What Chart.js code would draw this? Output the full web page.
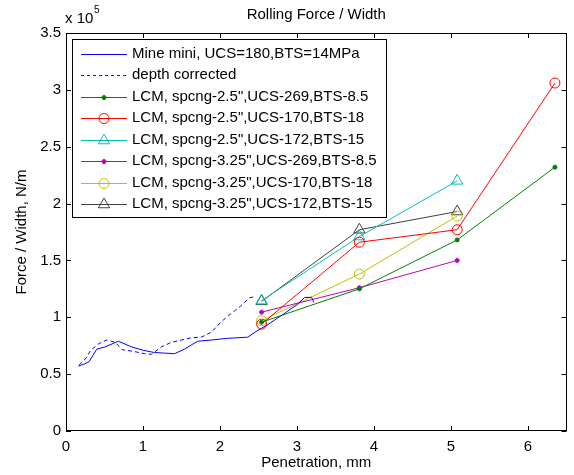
<!DOCTYPE html>
<html>
<head>
<meta charset="utf-8">
<script src="https://cdn.jsdelivr.net/npm/chart.js@4.4.0/dist/chart.umd.min.js"></script>
<style>
  html, body { margin: 0; padding: 0; background: #fff; }
  canvas { display: block; }
</style>
</head>
<body>
<canvas id="grafica" width="574" height="475"></canvas>
<script>
// ===============================
// DATOS (fuerza en unidades de 1e5 N/m)
// ===============================
const mineX = [0.16, 0.24, 0.30, 0.40, 0.51, 0.68, 0.85, 1.00, 1.15, 1.28, 1.41, 1.54, 1.66, 1.72, 1.89, 2.10, 2.36, 2.48, 2.53, 2.61, 2.74, 2.83, 2.91, 3.00, 3.10, 3.19, 3.22];
const mineY = [0.57, 0.59, 0.61, 0.72, 0.74, 0.79, 0.74, 0.71, 0.69, 0.685, 0.68, 0.72, 0.77, 0.79, 0.80, 0.815, 0.825, 0.88, 0.90, 0.93, 0.99, 1.03, 1.07, 1.11, 1.175, 1.175, 1.13];

const corrX = [0.17, 0.26, 0.32, 0.43, 0.53, 0.64, 0.73, 0.88, 1.02, 1.11, 1.24, 1.37, 1.50, 1.63, 1.76, 1.89, 2.01, 2.14, 2.27, 2.38, 2.44];
const corrY = [0.58, 0.64, 0.71, 0.77, 0.80, 0.78, 0.715, 0.70, 0.68, 0.675, 0.74, 0.78, 0.80, 0.82, 0.826, 0.87, 0.957, 1.03, 1.10, 1.17, 1.18];

const spacingX = [2.54, 3.81, 5.08, 6.35];
const ucs269_25 = [0.957, 1.25, 1.68, 2.32];
const ucs170_25 = [0.94, 1.66, 1.77, 3.06];
const ucs172_25 = [1.147, 1.71, 2.20];
const ucs269_325 = [1.045, 1.26, 1.50];
const ucs170_325 = [0.97, 1.38, 1.89];
const ucs172_325 = [1.14, 1.77, 1.93];

const xTicks = [0, 1, 2, 3, 4, 5, 6];
const yTicks = [0, 0.5, 1, 1.5, 2, 2.5, 3, 3.5];

const FONT = "'Liberation Sans', Arial, sans-serif";

function pares(xs, ys) {
  return ys.map((y, i) => ({ x: xs[i], y }));
}

// ===============================
// SERIES
// ===============================
const series = [
  { label: "Mine mini, UCS=180,BTS=14MPa", data: pares(mineX, mineY), color: "#0000ff", marker: null, dash: [] },
  { label: "depth corrected", data: pares(corrX, corrY), color: "#0000ff", marker: null, dash: [4, 3] },
  { label: "LCM, spcng-2.5\",UCS-269,BTS-8.5", data: pares(spacingX, ucs269_25), color: "#008000", marker: "dot", dash: [] },
  { label: "LCM, spcng-2.5\",UCS-170,BTS-18", data: pares(spacingX, ucs170_25), color: "#ff0000", marker: "circle", dash: [] },
  { label: "LCM, spcng-2.5\",UCS-172,BTS-15", data: pares(spacingX, ucs172_25), color: "#00bfbf", marker: "triangle", dash: [] },
  { label: "LCM, spcng-3.25\",UCS-269,BTS-8.5", data: pares(spacingX, ucs269_325), color: "#bf00bf", marker: "dot", dash: [] },
  { label: "LCM, spcng-3.25\",UCS-170,BTS-18", data: pares(spacingX, ucs170_325), color: "#bfbf00", marker: "circle", dash: [] },
  { label: "LCM, spcng-3.25\",UCS-172,BTS-15", data: pares(spacingX, ucs172_325), color: "#404040", marker: "triangle", dash: [] }
];

function estiloPunto(m) {
  if (m === "dot") return { pointStyle: "circle", pointRadius: 2, fill: true };
  if (m === "circle") return { pointStyle: "circle", pointRadius: 5, fill: false };
  if (m === "triangle") return { pointStyle: "triangle", pointRadius: 6.5, fill: false };
  return { pointStyle: "circle", pointRadius: 0, fill: false };
}

const datasets = series.map(s => {
  const p = estiloPunto(s.marker);
  return {
    label: s.label,
    data: s.data,
    borderColor: s.color,
    borderWidth: 1,
    borderDash: s.dash,
    tension: 0,
    fill: false,
    pointStyle: p.pointStyle,
    pointRadius: p.pointRadius,
    pointHoverRadius: p.pointRadius,
    pointBorderColor: s.color,
    pointBorderWidth: 1,
    pointBackgroundColor: p.fill ? s.color : "rgba(0,0,0,0)"
  };
});

// ===============================
// MARCADORES PARA LA LEYENDA
// ===============================
function dibujarMarcador(ctx, m, x, y, color) {
  const p = estiloPunto(m);
  if (!m) return;
  ctx.save();
  ctx.strokeStyle = color;
  ctx.fillStyle = color;
  ctx.lineWidth = 1;
  ctx.setLineDash([]);
  ctx.beginPath();
  if (p.pointStyle === "triangle") {
    const r = p.pointRadius;
    let a = 0;
    ctx.moveTo(x + Math.sin(a) * r, y - Math.cos(a) * r);
    a += 2 * Math.PI / 3;
    ctx.lineTo(x + Math.sin(a) * r, y - Math.cos(a) * r);
    a += 2 * Math.PI / 3;
    ctx.lineTo(x + Math.sin(a) * r, y - Math.cos(a) * r);
    ctx.closePath();
  } else {
    ctx.arc(x, y, p.pointRadius, 0, Math.PI * 2);
  }
  if (p.fill) ctx.fill();
  ctx.stroke();
  ctx.restore();
}

// ===============================
// PLUGIN: caja, ticks interiores, textos y leyenda
// ===============================
const marcoMatlab = {
  id: "marcoMatlab",
  afterDatasetsDraw(chart) {
    const { ctx, chartArea: a, scales } = chart;
    ctx.save();

    // caja de ejes
    ctx.strokeStyle = "#000";
    ctx.lineWidth = 1;
    ctx.setLineDash([]);
    ctx.strokeRect(Math.round(a.left) + 0.5, Math.round(a.top) + 0.5,
      Math.round(a.right - a.left) - 1, Math.round(a.bottom - a.top) - 1);

    // ticks hacia dentro
    const tl = 5;
    ctx.beginPath();
    xTicks.forEach(v => {
      const px = Math.round(scales.x.getPixelForValue(v)) + 0.5;
      ctx.moveTo(px, a.bottom); ctx.lineTo(px, a.bottom - tl);
      ctx.moveTo(px, a.top); ctx.lineTo(px, a.top + tl);
    });
    yTicks.forEach(v => {
      const py = Math.round(scales.y.getPixelForValue(v)) + 0.5;
      ctx.moveTo(a.left, py); ctx.lineTo(a.left + tl, py);
      ctx.moveTo(a.right, py); ctx.lineTo(a.right - tl, py);
    });
    ctx.stroke();

    // titulo y etiquetas
    ctx.fillStyle = "#000";
    ctx.font = "15px " + FONT;
    ctx.textAlign = "center";
    ctx.textBaseline = "middle";
    ctx.fillText("Rolling Force / Width", (a.left + a.right) / 2, 15);
    ctx.fillText("Penetration, mm", (a.left + a.right) / 2, 463);

    ctx.save();
    ctx.translate(22, (a.top + a.bottom) / 2);
    ctx.rotate(-Math.PI / 2);
    ctx.fillText("Force / Width, N/m", 0, 0);
    ctx.restore();

    ctx.textAlign = "left";
    ctx.font = "15px " + FONT;
    ctx.fillText("x 10", 65, 19);
    ctx.font = "10px " + FONT;
    ctx.fillText("5", 94, 10);

    // leyenda
    const lx = 72, ly = 39, lw = 314, lh = 178;
    ctx.fillStyle = "#fff";
    ctx.fillRect(lx, ly, lw, lh);
    ctx.strokeStyle = "#000";
    ctx.strokeRect(lx + 0.5, ly + 0.5, lw, lh);

    ctx.font = "15px " + FONT;
    series.forEach((s, i) => {
      const y = 53.5 + i * 21.5;
      ctx.strokeStyle = s.color;
      ctx.lineWidth = 1;
      ctx.setLineDash(s.dash.length ? [3, 3] : []);
      ctx.beginPath();
      ctx.moveTo(81, Math.round(y) + 0.5);
      ctx.lineTo(127, Math.round(y) + 0.5);
      ctx.stroke();
      ctx.setLineDash([]);
      dibujarMarcador(ctx, s.marker, 104, Math.round(y) + 0.5, s.color);
      ctx.fillStyle = "#000";
      ctx.textAlign = "left";
      ctx.textBaseline = "middle";
      ctx.fillText(s.label, 132, y);
    });

    ctx.restore();
  }
};

// ===============================
// GRAFICA
// ===============================
const ctx = document.getElementById("grafica").getContext("2d");

new Chart(ctx, {
  type: "line",
  data: { datasets },
  options: {
    responsive: false,
    animation: false,
    devicePixelRatio: 1,
    layout: { padding: { top: 33, right: 1, left: 0, bottom: 0 } },
    plugins: {
      legend: { display: false },
      tooltip: { enabled: false },
      title: { display: false }
    },
    scales: {
      x: {
        type: "linear",
        min: 0,
        max: 6.5,
        afterFit: s => { s.height = 44; },
        afterBuildTicks: s => { s.ticks = xTicks.map(v => ({ value: v })); },
        grid: { drawOnChartArea: false, drawTicks: false },
        border: { display: false },
        ticks: {
          padding: 7,
          color: "#000",
          font: { family: FONT, size: 15 },
          maxRotation: 0,
          callback: v => String(v)
        }
      },
      y: {
        type: "linear",
        min: 0,
        max: 3.5,
        afterFit: s => { s.width = 66; },
        afterBuildTicks: s => { s.ticks = yTicks.map(v => ({ value: v })); },
        grid: { drawOnChartArea: false, drawTicks: false },
        border: { display: false },
        ticks: {
          padding: 5,
          color: "#000",
          font: { family: FONT, size: 15 },
          callback: v => String(v)
        }
      }
    }
  },
  plugins: [marcoMatlab]
});
</script>
</body>
</html>
